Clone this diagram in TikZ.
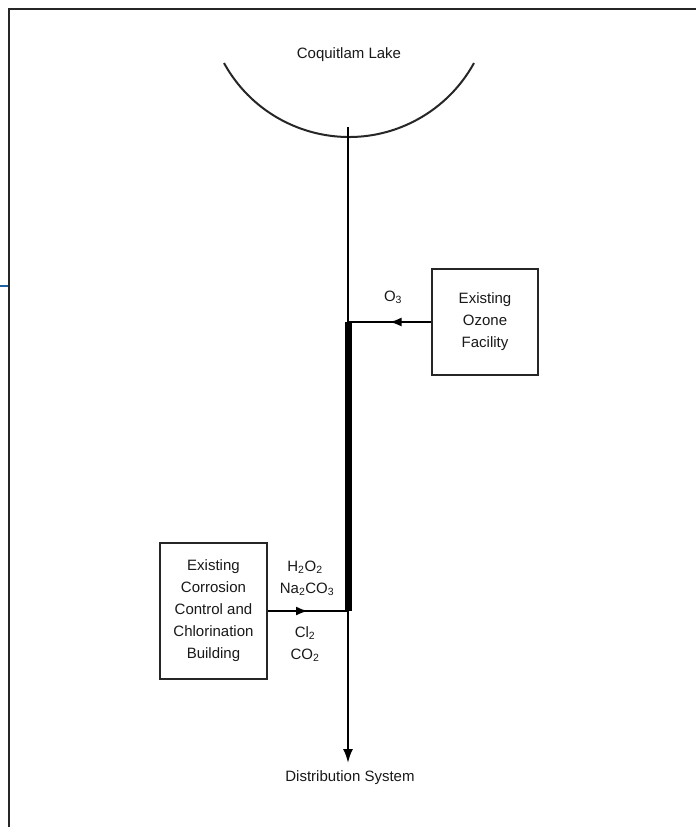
\documentclass[tikz,border=0pt]{standalone}
\usepackage{fontspec}
\setmainfont{Liberation Sans}
\usetikzlibrary{arrows.meta,decorations.markings}
\definecolor{frameblue}{RGB}{31,97,161}
\begin{document}
\begin{tikzpicture}[x=1pt,y=1pt,
  txt/.style={font=\fontsize{15}{22}\selectfont, text=black!90, inner sep=0pt, align=center},
  facility/.style={draw=black!85, line width=2pt, txt, minimum width=106pt},
  pipe/.style={draw=black, line width=2pt},
  midarrow/.style={postaction={decorate}, decoration={markings,
    mark=at position 0.5 with {\arrow{Latex[length=12pt,width=9pt]}}}}
]
\useasboundingbox (0,0) rectangle (696,-827);
\fill[white] (0,0) rectangle (696,-827);
% frame
\draw[line width=2.5pt, black!85] (9,-827) -- (9,-9) -- (696,-9);
\draw[line width=2pt, frameblue] (0,-286) -- (8,-286);
% lake
\draw[line width=2pt, black!85] (224,-63) arc[start angle=208.76, end angle=331.24, radius=142.6];
\node[txt] (lake) at (349,-55) {Coquitlam Lake};
% coordinates on main line
\coordinate (top) at (348,-127);
\coordinate (j1) at (348,-322);
\coordinate (j2) at (348,-611);
\coordinate (bot) at (348,-763);
% boxes
\node[facility, minimum height=106pt] (ozone) at (485,-322) {Existing\\Ozone\\Facility};
\node[facility, minimum width=107pt, minimum height=136pt] (corr) at (213.5,-611)
  {Existing\\Corrosion\\Control and\\Chlorination\\Building};
% main pipe
\draw[pipe, -{Latex[length=14pt,width=10pt]}] (top) -- (bot);
\draw[line width=7pt] (j1) -- (j2);
% feeds
\draw[pipe, midarrow] (ozone.west) -- (j1);
\draw[pipe, midarrow] (corr.east) -- (j2);
% labels
\node[txt] (o3) at (393,-297) {O\textsubscript{3}};
\node[txt] (h2o2) at (305,-567) {H\textsubscript{2}O\textsubscript{2}};
\node[txt] (na) at (307,-589) {Na\textsubscript{2}CO\textsubscript{3}};
\node[txt] (cl) at (305,-633) {Cl\textsubscript{2}};
\node[txt] (co2) at (305,-655) {CO\textsubscript{2}};
\node[txt] (dist) at (350,-778) {Distribution System};
\end{tikzpicture}
\end{document}
